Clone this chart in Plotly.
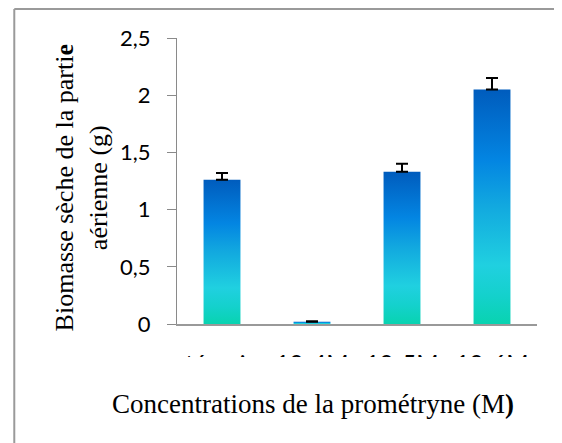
import plotly.graph_objects as go

# data
categories = ["témoin", "10-4M", "10-5M", "10-6M"]
biomass = [1.26, 0.02, 1.33, 2.05]
errors = [0.06, 0.005, 0.07, 0.10]

# excel-like vertical gradient, bottom -> top
bar_gradient = [
    [0.0, "#08d3b0"],
    [0.12, "#14d1cc"],
    [0.25, "#20d0e0"],
    [0.5, "#12a9df"],
    [0.7, "#0385e2"],
    [1.0, "#005cbd"],
]
half_width = 0.205

fig = go.Figure()

# bars drawn as filled shapes so each one can carry its own gradient
for i, v in enumerate(biomass):
    fig.add_trace(go.Scatter(
        x=[i - half_width, i + half_width, i + half_width, i - half_width, i - half_width],
        y=[0, 0, v, v, 0],
        mode="lines", fill="toself",
        fillgradient=dict(type="vertical", colorscale=bar_gradient),
        line=dict(width=0), showlegend=False, hoverinfo="skip"
    ))

# one-sided error bars
fig.add_trace(go.Scatter(
    x=list(range(len(categories))), y=biomass,
    mode="markers", marker=dict(size=1, color="rgba(0,0,0,0)"),
    error_y=dict(type="data", symmetric=False, array=errors,
                 arrayminus=[0] * len(errors), color="black", thickness=2, width=6),
    showlegend=False, hoverinfo="skip"
))

serif = dict(family="Liberation Serif, Times New Roman, serif", size=27, color="#000000")

fig.update_xaxes(
    range=[-0.5, 3.5], tickvals=list(range(len(categories))), ticktext=categories,
    showline=True, linecolor="#999999", linewidth=2, ticks="",
    showgrid=False, zeroline=False,
    tickfont=dict(family="Lato, Calibri, sans-serif", size=24, color="#000000"),
    ticklabelstandoff=17
)
fig.update_yaxes(
    range=[0, 2.5], dtick=0.5, tick0=0,
    showline=True, linecolor="#8a8a8a", linewidth=1,
    ticks="outside", ticklen=9, tickcolor="#8a8a8a",
    showgrid=False, zeroline=False,
    tickfont=dict(family="Lato, Calibri, sans-serif", size=22, color="#000000"),
    ticklabelstandoff=12
)

# axis titles
fig.add_annotation(
    text="Biomasse sèche de la parti<b>e</b><br>aérienne (g)",
    xref="paper", yref="paper", x=-0.266, y=0.475, textangle=-90,
    showarrow=False, font=dict(serif, size=26), xanchor="center", yanchor="middle"
)
fig.add_annotation(
    text="Concentrations de la prométryne (M<b>)</b>",
    xref="paper", yref="paper", x=0.377, y=-0.28,
    showarrow=False, font=serif, xanchor="center", yanchor="middle"
)

# chart frame (only top and left edges are visible) and the clipped label strip
fig.add_shape(type="line", xref="paper", yref="paper", x0=-0.452, x1=1.2, y0=1.1015, y1=1.1015,
              line=dict(color="#9a9a9a", width=2))
fig.add_shape(type="line", xref="paper", yref="paper", x0=-0.452, x1=-0.452, y0=1.1015, y1=-0.5,
              line=dict(color="#9a9a9a", width=2))
fig.add_shape(type="rect", xref="paper", yref="paper", x0=-0.1, x1=1.1, y0=-0.203, y1=-0.1154,
              fillcolor="white", line=dict(width=0), layer="above")

# the page body adds an 8px offset, so the margins are shifted to compensate
fig.update_layout(
    width=562, height=443,
    margin=dict(l=169, r=32.5, t=30, b=127),
    paper_bgcolor="white", plot_bgcolor="white",
    separators=", ",
    showlegend=False
)

fig.write_html("out.html")
